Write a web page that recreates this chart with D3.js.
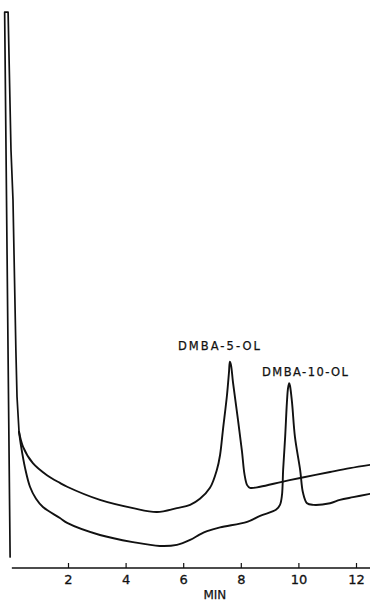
<!DOCTYPE html>
<html>
<head>
<meta charset="utf-8">
<script src="https://cdn.jsdelivr.net/npm/d3@7"></script>
<style>
	body { margin: 0; background: #fff; }
	.trace { fill: none; stroke: #111; stroke-width: 1.9; stroke-linejoin: round; stroke-linecap: round; }
	.axis text { font-family: "DejaVu Sans", sans-serif; font-size: 13px; fill: #111; stroke: #111; stroke-width: 0.3; }
	.axis line { stroke: #111; stroke-width: 1.2; }
	.base { stroke: #111; stroke-width: 1.3; }
	.peak-label, .x-title { font-family: "DejaVu Sans", sans-serif; fill: #111; stroke: #111; stroke-width: 0.25; }
</style>
</head>
<body>
<div class="box"></div>
<script>
// solvent front, shared by both runs (minutes, detector response)
var frontTime = [-0.01, -0.2, -0.08, 0.02, 0.09, 0.19, 0.23, 0.30];
var frontResp = [0.2, 99.6, 99.6, 74.5, 65.3, 38.0, 29.4, 23.0];

// run with DMBA-5-OL
var runATime = [0.44, 0.78, 1.27, 1.72, 1.97, 3.11, 4.26, 5.09, 5.78, 6.24, 6.58, 6.93, 7.17, 7.28, 7.38, 7.52, 7.59, 7.62, 7.66, 7.73, 7.90, 8.04, 8.13, 8.22, 8.32, 8.67, 9.43, 10.06, 11.10, 11.79, 12.49];
var runAResp = [20.3, 17.3, 15.1, 13.7, 13.0, 10.6, 9.1, 8.4, 9.1, 9.7, 10.8, 12.8, 16.1, 18.8, 23.4, 29.7, 33.9, 35.8, 35.2, 32.0, 25.3, 19.5, 15.2, 13.3, 12.8, 13.0, 13.9, 14.6, 15.7, 16.4, 17.0];

// run with DMBA-10-OL
var runBTime = [0.37, 0.51, 0.68, 0.89, 1.13, 1.72, 1.97, 3.11, 4.26, 5.19, 5.78, 6.24, 6.58, 6.83, 7.28, 8.22, 8.67, 9.22, 9.36, 9.43, 9.47, 9.54, 9.60, 9.64, 9.68, 9.71, 9.78, 9.88, 10.06, 10.16, 10.30, 10.51, 11.10, 11.44, 11.90, 12.49];
var runBResp = [20.4, 16.4, 13.0, 10.8, 9.3, 7.3, 6.4, 4.2, 2.9, 2.2, 2.4, 3.3, 4.3, 4.9, 5.6, 6.6, 7.7, 8.8, 9.7, 11.5, 16.1, 22.1, 28.3, 31.0, 31.9, 31.4, 28.3, 22.1, 16.1, 11.9, 10.0, 9.7, 10.0, 10.6, 11.1, 11.7];

var peakLabels = ['DMBA-5-OL', 'DMBA-10-OL'];
var peakLabelTime = [7.24, 10.23];
var peakLabelResp = [38.0, 33.3];

var tickMinutes = [2, 4, 6, 8, 10, 12];
var axisTitle = 'MIN';

function drawChart()
{
	var width = 370, height = 609;

	var svg = d3.select('.box')
		.append('svg')
		.attr('width', width)
		.attr('height', height);

	var x = d3.scaleLinear().domain([0, 12]).range([10.4, 356]);
	var y = d3.scaleLinear().domain([0, 100]).range([558, 10]);
	var axisY = 568;

	function toPoints(times, resps) {
		return times.map(function(t, i) { return {t: t, v: resps[i]}; });
	}

	var front = toPoints(frontTime, frontResp);
	var last = front[front.length - 1];
	var runs = [
		[last].concat(toPoints(runATime, runAResp)),
		[last].concat(toPoints(runBTime, runBResp))
	];

	var frontLine = d3.line()
		.x(function(d) { return x(d.t); })
		.y(function(d) { return y(d.v); });

	var line = d3.line()
		.x(function(d) { return x(d.t); })
		.y(function(d) { return y(d.v); })
		.curve(d3.curveCatmullRom.alpha(0.5));

	svg.append('path')
		.datum(front)
		.attr('class', 'trace')
		.style('stroke-width', 1.7)
		.attr('d', frontLine);

	svg.selectAll('path.run')
		.data(runs)
		.enter()
		.append('path')
			.attr('class', 'trace run')
			.attr('d', line);

	// time axis, ticks pointing up
	svg.append('line')
		.attr('class', 'base')
		.attr('x1', x(0.05))
		.attr('y1', axisY)
		.attr('x2', width)
		.attr('y2', axisY);

	var axis = d3.axisBottom(x)
		.tickValues(tickMinutes)
		.tickSizeInner(-5)
		.tickSizeOuter(0)
		.tickPadding(7)
		.tickFormat(d3.format('d'));

	var g = svg.append('g')
		.attr('class', 'axis')
		.attr('transform', 'translate(0,' + axisY + ')')
		.call(axis);
	g.select('.domain').remove();

	svg.append('text')
		.attr('class', 'x-title')
		.attr('x', x(7.1))
		.attr('y', 599)
		.attr('text-anchor', 'middle')
		.style('font-size', '12px')
		.text(axisTitle);

	svg.selectAll('text.peak-label')
		.data(peakLabels)
		.enter()
		.append('text')
			.attr('class', 'peak-label')
			.attr('x', function(d, i) { return x(peakLabelTime[i]); })
			.attr('y', function(d, i) { return y(peakLabelResp[i]); })
			.attr('text-anchor', 'middle')
			.attr('textLength', function(d, i) { return i === 0 ? 82 : 86; })
			.attr('lengthAdjust', 'spacing')
			.style('font-size', '11.5px')
			.text(function(d) { return d; });
}

drawChart();
</script>
</body>
</html>
